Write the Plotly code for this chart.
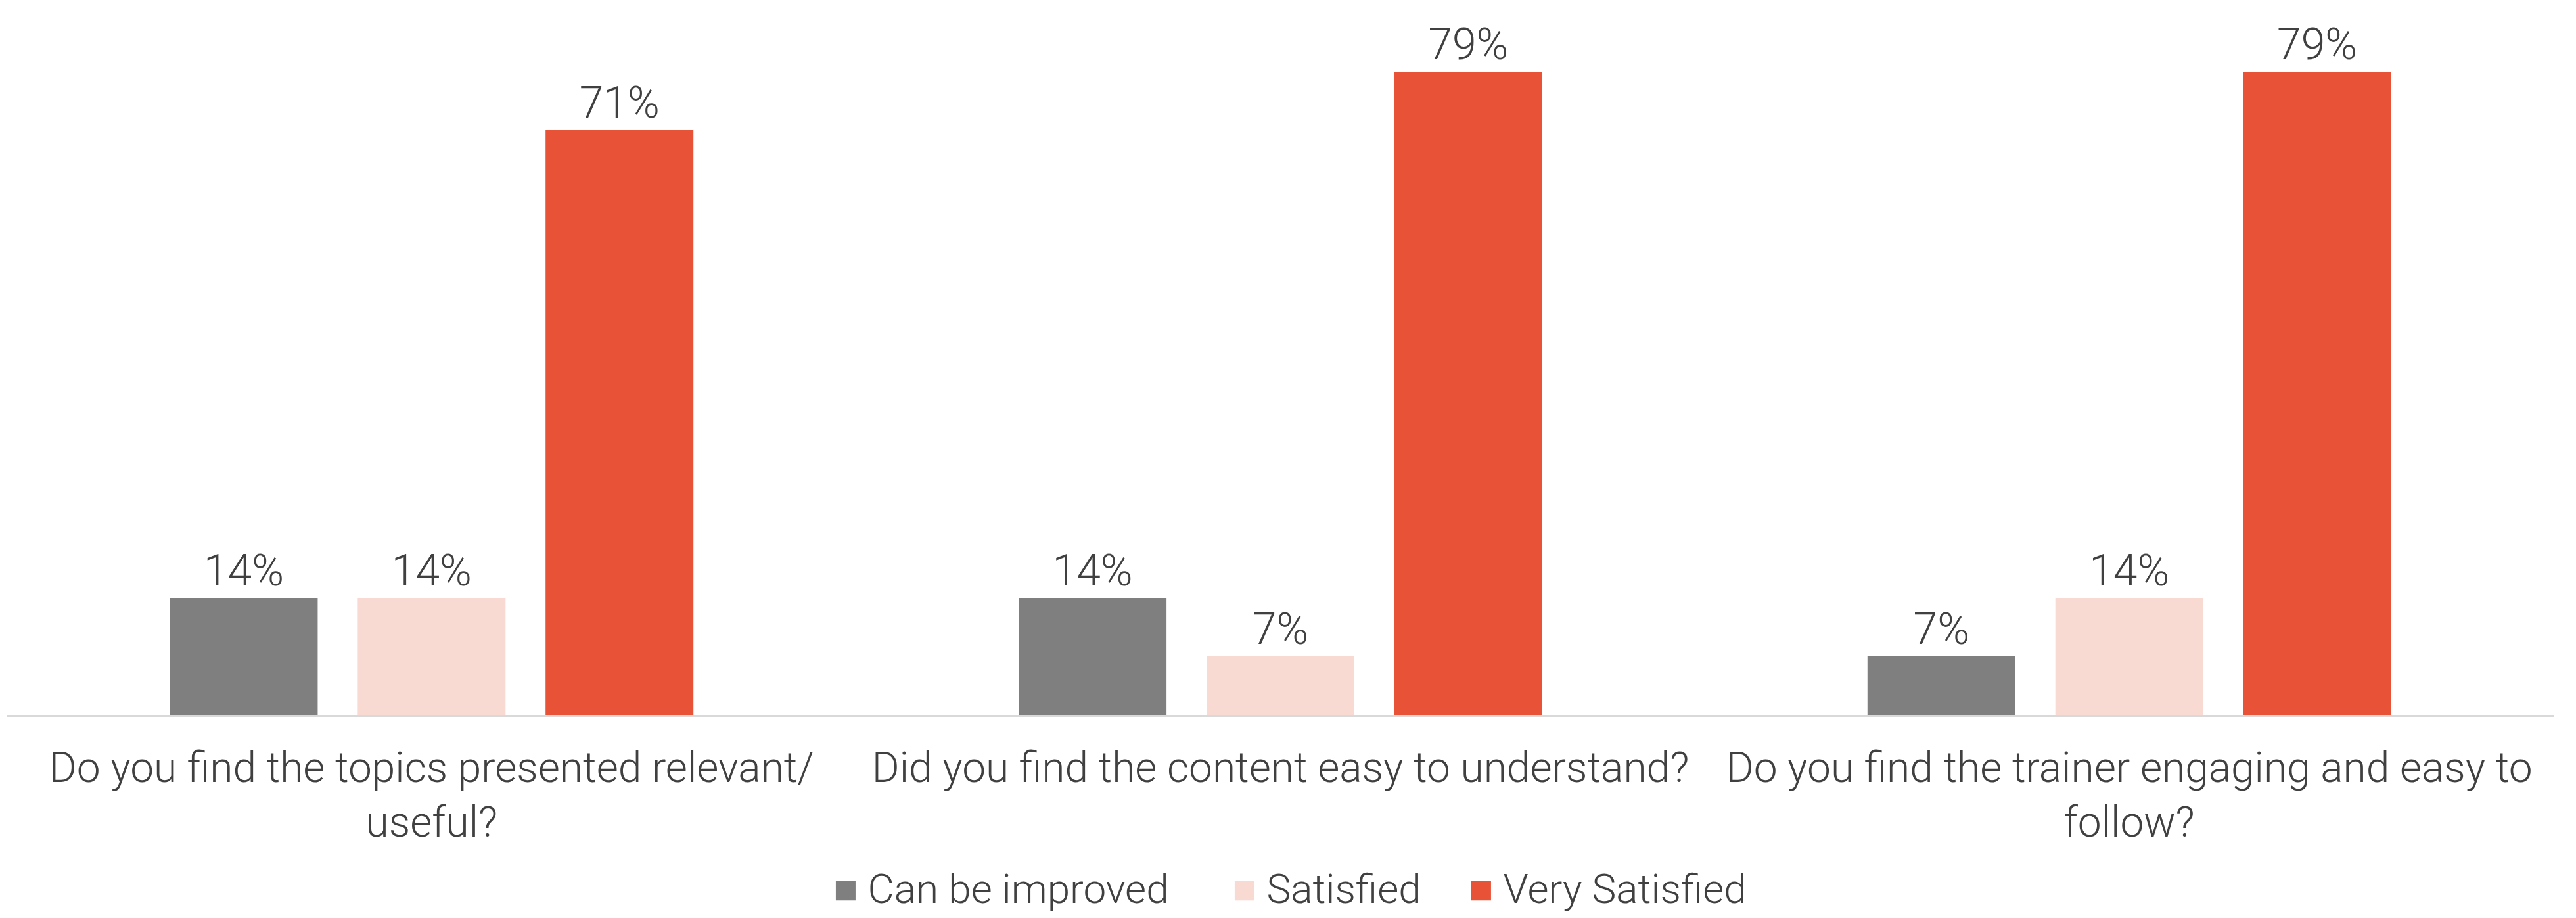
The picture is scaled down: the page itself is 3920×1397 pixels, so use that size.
import plotly.graph_objects as go

categories = [
    "Do you find the topics presented relevant/<br>useful?",
    "Did you find the content easy to understand?",
    "Do you find the trainer engaging and easy to<br>follow?",
]
series_names = ["Can be improved", "Satisfied", "Very Satisfied"]
can_be_improved = [14.29, 14.29, 7.14]
satisfied = [14.29, 7.14, 14.29]
very_satisfied = [71.43, 78.57, 78.57]
colors = ["#7f7f7f", "#f8dad3", "#e85237"]

FONT = "Roboto, sans-serif"
TXT = "#404040"

fig = go.Figure()
for name, vals, col in zip(series_names, [can_be_improved, satisfied, very_satisfied], colors):
    fig.add_trace(go.Bar(
        x=categories, y=vals, name=name, marker=dict(color=col, line=dict(width=0)),
        texttemplate="%{y:.0f}%", textposition="outside", cliponaxis=False,
        textfont=dict(family=FONT, size=66, color=TXT, weight=300), showlegend=False,
    ))

W, H = 3920, 1397
ml, mr, mt, mb = 3, 42, 21, 317
fig.update_layout(
    width=W, height=H,
    margin=dict(l=ml, r=mr, t=mt, b=mb),
    barmode="group", bargap=0.336, bargroupgap=0.213,
    plot_bgcolor="white", paper_bgcolor="white",
    font=dict(family=FONT, size=62, color=TXT, weight=300),
    xaxis=dict(showline=True, linecolor="#d9d9d9", linewidth=3, ticks="",
               ticklabelstandoff=22,
               tickfont=dict(family=FONT, size=64, color=TXT, weight=300)),
    yaxis=dict(range=[0, 85], visible=False, showgrid=False, zeroline=False),
)

# custom legend with large square swatches
legend_x_px = [1258, 1865, 2225]
pw = W - ml - mr
ph = H - mt - mb
for name, col, px in zip(series_names, colors, legend_x_px):
    fig.add_annotation(
        xref="paper", yref="paper", x=(px - ml) / pw, y=-(1344 - (H - mb)) / ph,
        xanchor="left", yanchor="middle", showarrow=False,
        text=f"<span style='color:{col}'>■</span> {name}",
        font=dict(family=FONT, size=62, color=TXT, weight=300),
    )

fig.write_html("out.html")
